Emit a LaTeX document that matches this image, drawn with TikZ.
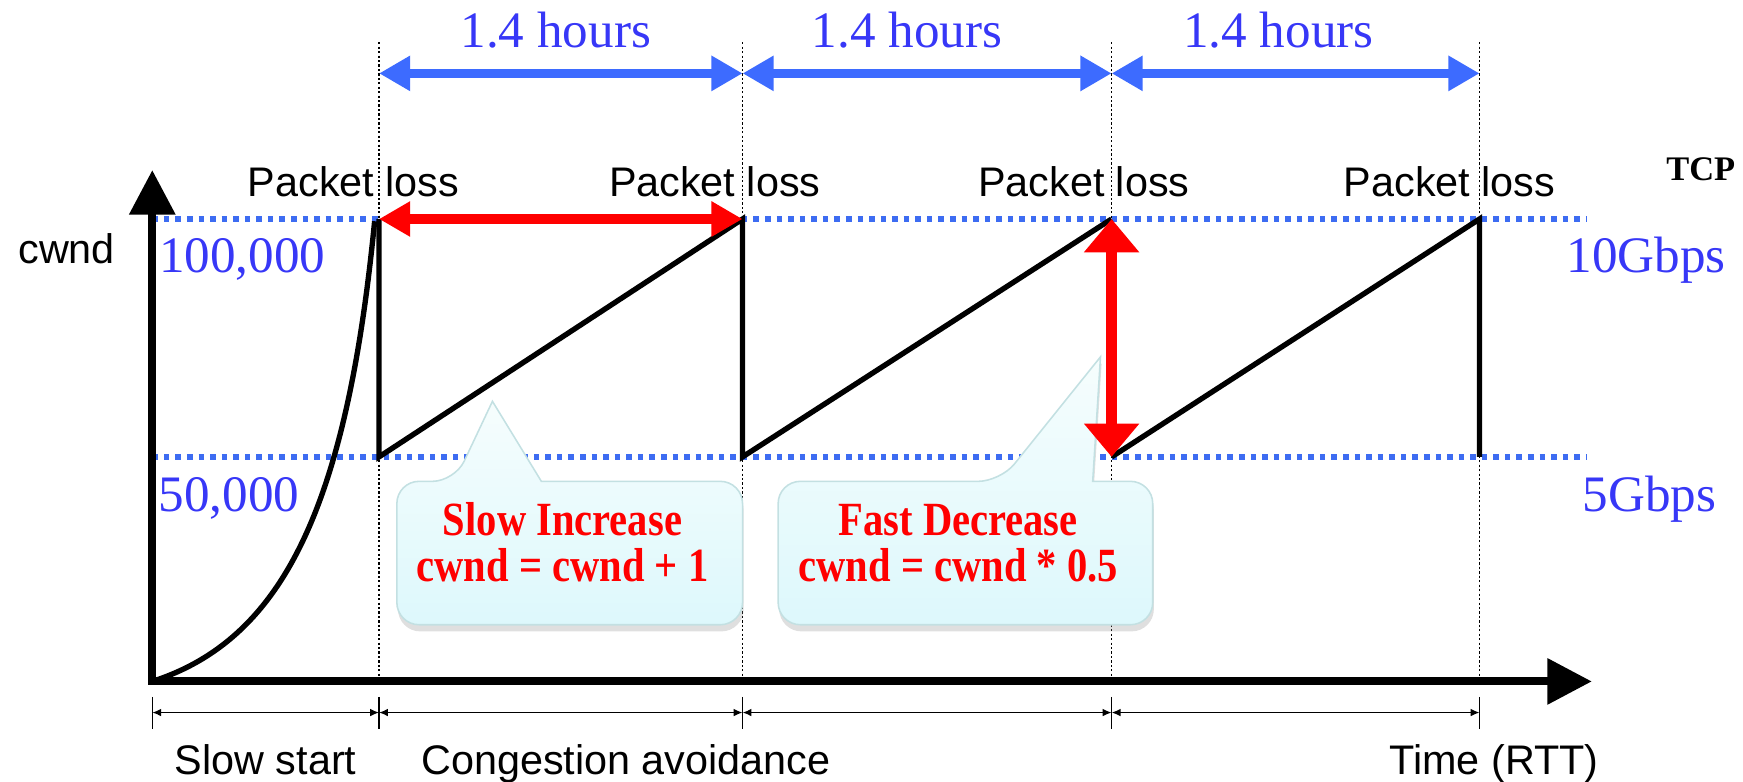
\documentclass[tikz,border=0pt]{standalone}
\usepackage{fontspec}
\setmainfont{Liberation Serif}
\setsansfont{Liberation Sans}
\usetikzlibrary{arrows.meta,shadows}
\definecolor{tblue}{HTML}{3737F7}
\definecolor{ablue}{HTML}{3D6BFF}
\definecolor{dblue}{HTML}{3D6CF2}
\definecolor{cred}{HTML}{FF0000}
\definecolor{ctop}{HTML}{F6FDFD}
\definecolor{cbot}{HTML}{DDF8FC}
\definecolor{cedge}{HTML}{C3E0E2}
\newcommand{\tallbold}[1]{\scalebox{0.97}[1.14]{#1}}
\begin{document}
\begin{tikzpicture}[x=0.5pt,y=-0.5pt,
  sanslbl/.style={font=\sffamily\fontsize{18.6}{22}\selectfont, inner sep=0pt, anchor=base},
  bluelbl/.style={text=tblue, font=\fontsize{23}{26}\selectfont, inner sep=0pt, anchor=base},
  calltext/.style={text=cred, font=\bfseries\fontsize{18.8}{22}\selectfont, inner sep=0pt, anchor=base},
  guide/.style={line width=0.6pt, dash pattern=on 1pt off 1pt},
  level/.style={dblue, line width=2.4pt, dash pattern=on 2.5pt off 2.7pt},
  saw/.style={line width=2.4pt, line join=miter},
  axis/.style={line width=3.6pt, line join=miter, {Triangle[length=20pt,width=20pt]}-{Triangle[length=20pt,width=20pt]}},
  spanarrow/.style={ablue, line width=4pt, {Triangle[length=14pt,width=15pt]}-{Triangle[length=14pt,width=15pt]}},
  hred/.style={cred, line width=4.5pt, {Triangle[length=14pt,width=15pt]}-{Triangle[length=14pt,width=15pt]}},
  vred/.style={cred, line width=5pt, {Triangle[length=15pt,width=24pt]}-{Triangle[length=15pt,width=24pt]}},
  dimline/.style={line width=0.7pt, {Latex[length=4pt,width=3.5pt]}-{Latex[length=4pt,width=3.5pt]}},
  tickline/.style={line width=0.7pt},
  callout/.style={draw=cedge, line width=0.7pt, top color=ctop, bottom color=cbot,
    drop shadow={opacity=0.25, shadow xshift=0.5pt, shadow yshift=-3pt}},
]
\useasboundingbox (0,0) rectangle (1568,703);

% key coordinates
\coordinate (O) at (137,613);
\coordinate (Ytop) at (137,153);
\coordinate (Xend) at (1432,613);
\coordinate (P1) at (341,197);  \coordinate (B1) at (341,411);
\coordinate (P2) at (668,197);  \coordinate (B2) at (668,411);
\coordinate (P3) at (1000,197); \coordinate (B3) at (1000,411);
\coordinate (P4) at (1331,197); \coordinate (B4) at (1331,411);
\coordinate (T1) at (341,38);   \coordinate (A1) at (341,613);
\coordinate (T2) at (668,38);   \coordinate (A2) at (668,613);
\coordinate (T3) at (1000,38);  \coordinate (A3) at (1000,613);
\coordinate (T4) at (1331,38);  \coordinate (A4) at (1331,613);
\coordinate (H1) at (341,66);   \coordinate (H2) at (668,66);
\coordinate (H3) at (1000,66);  \coordinate (H4) at (1331,66);
\coordinate (LtopL) at (137,197); \coordinate (LtopR) at (1427,197);
\coordinate (LbotL) at (137,411); \coordinate (LbotR) at (1427,411);

% vertical guides
\draw[guide] (T1) -- (A1);
\draw[guide] (T2) -- (A2);
\draw[guide] (T3) -- (A3);
\draw[guide] (T4) -- (A4);

% level lines
\draw[level] (LtopL) -- (LtopR);
\draw[level] (LbotL) -- (LbotR);

% callouts
\path[callout] (409,433) -- (443,361) -- (487,433) [rounded corners=10pt] -- (668,433) -- (668,562) -- (357,562) -- (357,433) -- cycle;
\path[callout] (900,433) -- (990,321) -- (983,433) [rounded corners=10pt] -- (1037,433) -- (1037,562) -- (700,562) -- (700,433) -- cycle;
\node[calltext] (si1) at (506,482) {\tallbold{Slow Increase}};
\node[calltext] (si2) at (506,523.5) {\tallbold{cwnd = cwnd + 1}};
\node[calltext] (fd1) at (862,482) {\tallbold{Fast Decrease}};
\node[calltext] (fd2) at (862,523.5) {\tallbold{cwnd = cwnd * 0.5}};

% slow start curve
\draw[saw] (O) .. controls (255,575) and (312,455) .. (337,199);
% sawtooth
\draw[saw] (P1) -- (B1) -- (P2) -- (B2) -- (P3);
\draw[saw] (B3) -- (P4) -- (B4);

% axes
\draw[axis] (Ytop) -- (O) -- (Xend);

% span arrows
\draw[spanarrow] (H1) -- (H2);
\draw[spanarrow] (H2) -- (H3);
\draw[spanarrow] (H3) -- (H4);
\node[bluelbl] (h1) at (500,43) {1.4 hours};
\node[bluelbl] (h2) at (816,43) {1.4 hours};
\node[bluelbl] (h3) at (1150,43) {1.4 hours};

% red arrows
\draw[hred] (P1) -- (P2);
\draw[vred] (P3) -- (B3);

% labels
\node[sanslbl] (pl1) at (318,177) {Packet loss};
\node[sanslbl] (pl2) at (643,177) {Packet loss};
\node[sanslbl] (pl3) at (975,177) {Packet loss};
\node[sanslbl] (pl4) at (1304,177) {Packet loss};
\node[font=\bfseries\fontsize{15.5}{18}\selectfont, inner sep=0pt, anchor=base] (tcp) at (1530,162) {TCP};
\node[sanslbl] (cw) at (60,237) {cwnd};
\node[bluelbl] (v1) at (218,245) {100,000};
\node[bluelbl] (v2) at (206,460) {50,000};
\node[bluelbl] (r1) at (1481,245) {10Gbps};
\node[bluelbl] (r2) at (1484,460) {5Gbps};

% bottom dimension lines
\coordinate (D0) at (137,641); \coordinate (D1) at (341,641); \coordinate (D2) at (668,641);
\coordinate (D3) at (1000,641); \coordinate (D4) at (1331,641);
\foreach \x in {137,341,668,1000,1331}{
  \draw[tickline] (\x,627) -- (\x,656);
}
\draw[dimline] (D0) -- (D1);
\draw[dimline] (D1) -- (D2);
\draw[dimline] (D2) -- (D3);
\draw[dimline] (D3) -- (D4);
\node[sanslbl] (ss) at (239,697) {Slow start};
\node[sanslbl] (ca) at (563,697) {Congestion avoidance};
\node[sanslbl] (tm) at (1344,697) {Time (RTT)};
\end{tikzpicture}
\end{document}
